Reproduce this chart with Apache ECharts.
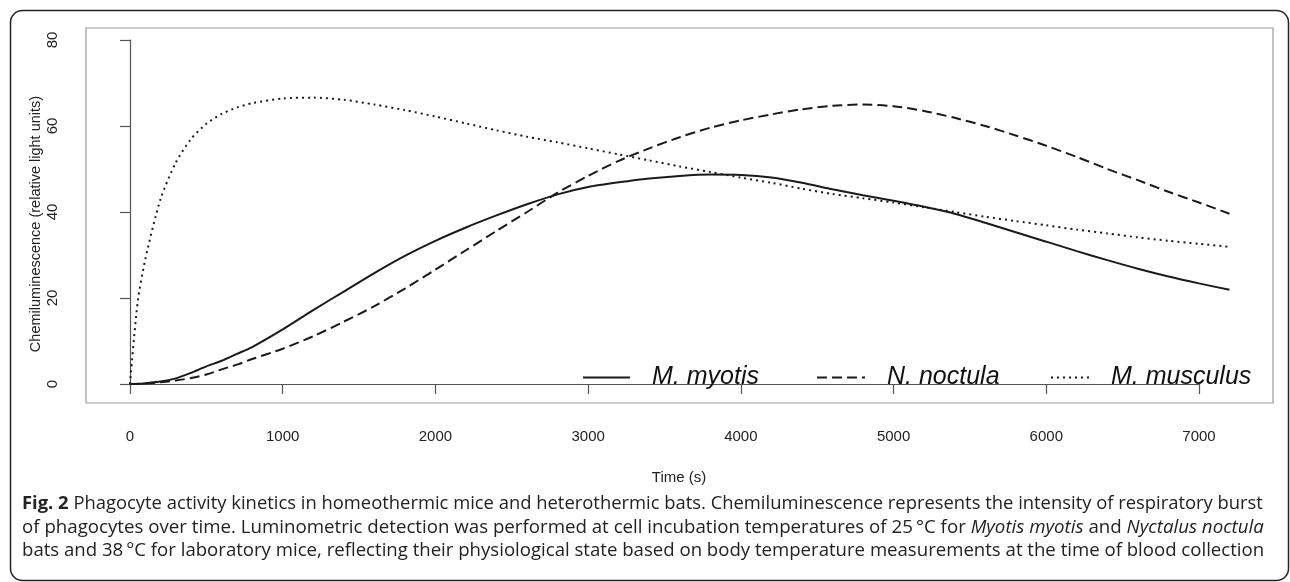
<!DOCTYPE html>
<html>
<head>
<meta charset="utf-8">
<script src="https://cdn.jsdelivr.net/npm/echarts@6/dist/echarts.min.js"></script>
<style>
  html, body { margin: 0; padding: 0; background: #fff; }
  #chart { width: 1290px; height: 582px; }
</style>
</head>
<body>
<div id="chart"></div>
<script>
// ---- Data ----
const timeSec = [0, 50, 100, 200, 300, 400, 500, 600, 700, 800, 1000, 1200, 1400, 1600, 1800, 2000,
  2200, 2400, 2600, 2800, 3000, 3200, 3400, 3600, 3800, 4000, 4200, 4400, 4600, 4800, 5000,
  5200, 5400, 5600, 5800, 6000, 6200, 6400, 6600, 6800, 7000, 7200];

const mMyotis = [0, 0.05, 0.2, 0.6, 1.3, 2.6, 4.1, 5.4, 7.0, 8.6, 12.7, 17.2, 21.5, 25.8, 29.8, 33.3,
  36.4, 39.2, 41.8, 44.1, 45.8, 46.9, 47.8, 48.4, 48.7, 48.6, 48.0, 46.8, 45.3, 43.9, 42.6,
  41.2, 39.6, 37.5, 35.3, 33.1, 30.9, 28.8, 26.8, 25.0, 23.4, 21.9];

const nNoctula = [0, 0.02, 0.1, 0.4, 0.8, 1.4, 2.2, 3.4, 4.5, 5.8, 8.2, 11.1, 14.5, 18.1, 22.2, 26.6,
  31.1, 35.6, 40.0, 44.5, 48.4, 51.9, 54.8, 57.4, 59.6, 61.3, 62.7, 63.9, 64.7, 65.0, 64.6,
  63.5, 61.9, 60.0, 57.8, 55.4, 52.8, 50.0, 47.4, 44.7, 42.2, 39.6];

const mMusculus = [0, 19, 29, 43, 51.5, 57, 60.5, 62.8, 64.3, 65.3, 66.4, 66.6, 66.1, 65.0, 63.7, 62.2,
  60.6, 59.0, 57.5, 56.2, 54.8, 53.4, 52.0, 50.6, 49.3, 48.0, 46.8, 45.4, 44.2, 43.2, 42.2,
  41.1, 40.0, 38.9, 37.9, 36.9, 35.9, 35.0, 34.1, 33.3, 32.6, 31.9];

const seriesNames = ['M. myotis', 'N. noctula', 'M. musculus'];
const xTickLabels = ['0', '1000', '2000', '3000', '4000', '5000', '6000', '7000'];
const yTickLabels = ['0', '20', '40', '60', '80'];
const xTitle = 'Time (s)';
const yTitle = 'Chemiluminescence (relative light units)';
const captionLines = [
  '{b|Fig. 2} Phagocyte activity kinetics in homeothermic mice and heterothermic bats. Chemiluminescence represents the intensity of respiratory burst',
  'of phagocytes over time. Luminometric detection was performed at cell incubation temperatures of 25\u2009°C for {i|Myotis myotis} and {i|Nyctalus noctula}',
  'bats and 38\u2009°C for laboratory mice, reflecting their physiological state based on body temperature measurements at the time of blood collection'
];

// ---- Chart ----
const chart = echarts.init(document.getElementById('chart'), null, { renderer: 'canvas' });
const pair = (arr) => timeSec.map((t, i) => [t, arr[i]]);
const lineColor = '#1a1a1a';
const axisColor = '#555';
const font = '"Liberation Sans", Arial, Helvetica, sans-serif';
const capFont = '"Open Sans", "Noto Sans", sans-serif';
const capSizes = [18.4, 18.7, 18.6];

const lineStyles = [
  { type: 'solid', width: 2 },
  { type: [10, 5], width: 2 },
  { type: [2, 4], width: 2 }
];
const dataSets = [mMyotis, nNoctula, mMusculus];

const legendLeft = [582, 816, 1050];
const legendIconW = [47, 48, 38];

const tMax = timeSec[timeSec.length - 1];

const option = {
  animation: false,
  backgroundColor: '#ffffff',
  grid: [
    // data grid: 0..7200 s spans x 130 -> 1229.5
    { left: 130, right: 60.5, top: 40, bottom: 198 },
    // plot frame
    { left: 86, right: 17, top: 28, bottom: 179, show: true, borderColor: '#9a9a9a', borderWidth: 1.2, backgroundColor: 'transparent', z: 0 },
    // axis grid: 0..7000 s spans x 130 -> 1199
    { left: 130, right: 91, top: 40, bottom: 198 }
  ],
  xAxis: [
    { type: 'value', gridIndex: 0, min: 0, max: tMax, show: false, splitLine: { show: false } },
    { type: 'value', gridIndex: 1, show: false, min: 0, max: 1, splitLine: { show: false } },
    {
      type: 'value', gridIndex: 2, min: 0, max: 7000, interval: 1000, offset: 19,
      axisLine: { show: true, lineStyle: { color: axisColor, width: 1.2 } },
      axisTick: { show: true, length: 10, lineStyle: { color: axisColor, width: 1.2 } },
      axisLabel: { color: '#222', fontSize: 15, fontFamily: font, margin: 26,
        formatter: (v) => xTickLabels[Math.round(v / 1000)] },
      splitLine: { show: false },
      name: xTitle, nameLocation: 'middle', nameGap: 67, nameMoveOverlap: false,
      nameTextStyle: { color: '#222', fontSize: 15, fontFamily: font, padding: [0, 0, 0, 29] }
    }
  ],
  yAxis: [
    { type: 'value', gridIndex: 0, min: 0, max: 80, show: false, splitLine: { show: false } },
    { type: 'value', gridIndex: 1, show: false, min: 0, max: 1, splitLine: { show: false } },
    {
      type: 'value', gridIndex: 2, min: 0, max: 80, interval: 20, offset: 44,
      axisLine: { show: true, lineStyle: { color: axisColor, width: 1.2 } },
      axisTick: { show: true, length: 10, lineStyle: { color: axisColor, width: 1.2 } },
      axisLabel: { color: '#222', fontSize: 15, fontFamily: font, rotate: 90, margin: 26,
        formatter: (v) => yTickLabels[Math.round(v / 20)] },
      splitLine: { show: false },
      name: yTitle, nameLocation: 'middle', nameGap: 43, nameRotate: 90, nameMoveOverlap: false,
      nameTextStyle: { color: '#222', fontSize: 14.5, fontFamily: font, padding: [0, 24, 0, 0] }
    }
  ],
  legend: seriesNames.map((name, i) => ({
    data: [name],
    left: legendLeft[i],
    top: 365,
    padding: 0,
    itemWidth: legendIconW[i],
    itemHeight: 14,
    itemStyle: { color: 'rgba(0,0,0,0)', borderColor: 'rgba(0,0,0,0)', borderWidth: 0, opacity: 0 },
    textStyle: { color: '#111', fontSize: 25, fontStyle: 'italic', fontFamily: font, padding: [0, 0, 0, 17] },
    selectedMode: false
  })),
  series: seriesNames.map((name, i) => ({
    name: name,
    type: 'line',
    xAxisIndex: 0,
    yAxisIndex: 0,
    data: pair(dataSets[i]),
    showSymbol: false,
    symbol: 'none',
    smooth: 0.25,
    lineStyle: { color: lineColor, width: lineStyles[i].width, type: lineStyles[i].type },
    itemStyle: { color: lineColor },
    emphasis: { disabled: true },
    z: 3
  })),
  graphic: [
    {
      type: 'rect',
      shape: { x: 10.5, y: 10.5, width: 1278, height: 570, r: 12 },
      style: { fill: 'none', stroke: '#222', lineWidth: 1.5 },
      silent: true, z: -1
    }
  ].concat(captionLines.map((txt, k) => ({
    type: 'text',
    left: 22,
    top: 495 + k * 23,
    silent: true,
    style: {
      text: txt,
      fill: '#222',
      fontSize: capSizes[k],
      fontFamily: capFont,
      rich: {
        b: { fontWeight: 'bold', fontSize: capSizes[k], fontFamily: capFont, fill: '#222' },
        i: { fontStyle: 'italic', fontSize: capSizes[k], fontFamily: capFont, fill: '#222' }
      }
    }
  })))
};

chart.setOption(option);
</script>
</body>
</html>
